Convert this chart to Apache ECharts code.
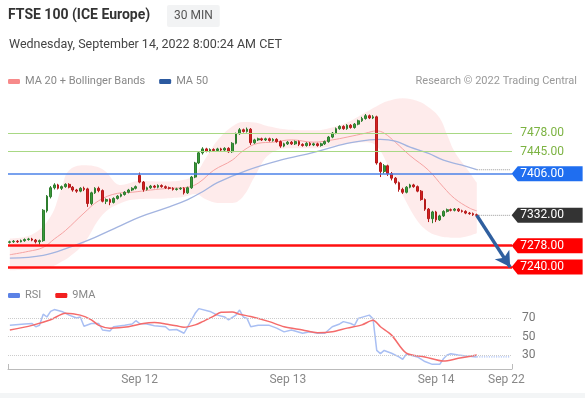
<!DOCTYPE html>
<html><head><meta charset="utf-8">
<script src="https://cdn.jsdelivr.net/npm/echarts@6/dist/echarts.min.js"></script>
<style>html,body{margin:0;padding:0;background:#fff;overflow:hidden}#c{width:585px;height:398px}#strip{position:absolute;left:0;top:393px;width:585px;height:5px;background:#f3f5f6}</style>
</head><body><div id="c"></div><div id="strip"></div>
<script>
// [open, close, low, high]
const candles = [
[7284,7285,7282,7287],[7285,7286,7283,7288],[7286,7285,7283,7288],[7285,7287,7284,7289],[7287,7289,7285,7291],
[7289,7290,7287,7292],[7290,7288,7286,7292],[7288,7285,7282,7290],[7285,7287,7280,7289],[7287,7341,7285,7343],
[7340,7366,7337,7368],[7365,7381,7362,7384],[7381,7386,7378,7389],[7386,7380,7378,7388],[7380,7383,7377,7385],
[7383,7387,7381,7389],[7387,7382,7380,7389],[7382,7377,7374,7384],[7377,7375,7372,7379],[7375,7380,7373,7382],
[7380,7378,7375,7383],[7379,7353,7347,7381],[7353,7372,7350,7374],[7372,7380,7370,7382],[7380,7376,7373,7383],
[7376,7357,7355,7378],[7357,7360,7352,7362],[7360,7355,7350,7362],[7355,7362,7353,7364],[7362,7366,7360,7368],
[7366,7369,7364,7371],[7369,7373,7367,7375],[7373,7377,7371,7379],[7377,7380,7375,7382],[7380,7383,7378,7385],
[7403,7391,7389,7408],[7391,7378,7374,7393],[7378,7381,7376,7383],[7381,7384,7379,7386],[7384,7382,7380,7386],
[7382,7385,7380,7387],[7385,7383,7381,7387],[7383,7381,7379,7385],[7381,7380,7378,7383],[7380,7378,7376,7382],
[7378,7379,7376,7381],[7379,7380,7377,7382],[7380,7372,7369,7382],[7372,7381,7370,7383],[7381,7400,7379,7402],
[7400,7425,7398,7427],[7425,7443,7423,7446],[7443,7450,7440,7453],[7450,7446,7444,7452],[7446,7449,7444,7451],
[7449,7447,7445,7451],[7447,7450,7445,7452],[7450,7448,7446,7452],[7448,7451,7446,7453],[7451,7445,7443,7453],
[7445,7460,7443,7462],[7460,7477,7458,7479],[7477,7484,7475,7487],[7484,7481,7479,7486],[7481,7485,7479,7488],
[7485,7461,7457,7487],[7461,7466,7459,7468],[7466,7468,7464,7470],[7468,7466,7464,7470],[7466,7468,7464,7470],
[7468,7465,7463,7470],[7465,7467,7463,7469],[7467,7463,7461,7469],[7463,7455,7452,7465],[7455,7459,7453,7461],
[7459,7462,7457,7464],[7462,7459,7457,7464],[7459,7463,7457,7465],[7463,7458,7455,7465],[7458,7456,7454,7460],
[7456,7460,7454,7462],[7460,7457,7455,7462],[7457,7459,7455,7461],[7459,7456,7454,7461],[7456,7459,7454,7461],
[7459,7463,7457,7465],[7463,7471,7461,7473],[7471,7478,7469,7480],[7478,7486,7476,7488],[7486,7490,7484,7492],
[7490,7486,7484,7492],[7486,7492,7484,7494],[7492,7488,7486,7494],[7488,7494,7486,7496],[7494,7500,7492,7502],
[7500,7504,7498,7507],[7504,7509,7502,7512],[7509,7505,7503,7511],[7505,7507,7503,7510],[7507,7425,7422,7509],
[7425,7410,7400,7427],[7410,7420,7406,7423],[7420,7406,7402,7422],[7406,7398,7394,7409],[7398,7390,7387,7400],
[7390,7378,7374,7392],[7378,7373,7370,7381],[7373,7382,7371,7384],[7382,7386,7380,7388],[7386,7383,7381,7388],
[7383,7375,7373,7385],[7375,7360,7358,7377],[7360,7343,7340,7362],[7343,7326,7320,7345],[7326,7338,7318,7340],
[7338,7324,7320,7340],[7324,7331,7322,7333],[7331,7339,7329,7341],[7339,7342,7337,7344],[7342,7341,7339,7344],
[7341,7343,7339,7345],[7343,7340,7338,7345],[7340,7339,7337,7342],[7339,7336,7334,7341],[7336,7335,7333,7338],
[7335,7333,7331,7337],[7333,7332,7330,7335]
];
const slotCount = 136;
const tickIdx = [35, 75, 115, 134];
const tickLabels = ['Sep 12', 'Sep 13', 'Sep 14', 'Sep 22'];

const ma20 = [[0,7262],[5,7268],[9,7275],[12,7290],[15,7305],[20,7336],[24,7358],[29,7371],[33,7373],[38,7377],[43,7380],[48,7382],[51,7390],[55,7412],[60,7430],[63,7447],[67,7460],[71,7462],[76,7466],[82,7462],[87,7466],[91,7471],[96,7478],[99,7482],[101,7478],[104,7462],[108,7438],[113,7412],[117,7382],[120,7362],[124,7345],[126,7340]];
const ma50 = [[0,7256],[9,7261],[16,7275],[23,7293],[29,7311],[35,7329],[43,7347],[48,7360],[52,7374],[56,7390],[64,7412],[73,7430],[82,7444],[91,7460],[97,7466],[100,7467],[104,7464],[108,7453],[113,7442],[117,7430],[122,7421],[126,7413]];
const bbIdx   = [0,6,11,14,16,20,25,30,35,42,47,50,53,56,60,63,66,70,76,82,88,92,96,99,102,106,110,113,116,118,120,123,126];
const bbUpper = [7291,7298,7330,7382,7412,7421,7414,7386,7393,7392,7395,7405,7435,7465,7490,7498,7497,7490,7484,7483,7490,7500,7515,7526,7535,7540,7535,7524,7505,7475,7445,7418,7390];
const bbLower = [7234,7236,7240,7250,7258,7282,7333,7354,7361,7362,7365,7370,7360,7354,7354,7366,7400,7440,7451,7451,7456,7460,7462,7455,7421,7368,7322,7303,7295,7293,7292,7294,7300];

const rsi = [[0,62],[4,63.5],[6,64],[7,60.5],[8,62],[9,74],[10,71],[11,77],[12,79],[14,77],[15,75],[16,73],[18,70],[19,71],[20,61],[22,64],[24,64],[25,57],[27,56],[28,60.5],[31,62],[33,63.5],[34,67],[35,64],[37,63.5],[39,61.5],[42,60.5],[43,57],[45,57.5],[47,53.5],[48,60.5],[50,75],[51,80],[54,77],[56,73],[58,71],[59,68],[61,73],[62,78.5],[63,71],[64,69.5],[65,60.5],[67,62],[70,62],[72,59],[74,55],[76,57],[79,53.5],[81,55],[83,53.5],[85,53.5],[87,60.5],[89,63.5],[90,66],[92,64],[93,62],[94,69.5],[97,73],[98,69],[99,35],[100,31.5],[101,35],[103,32],[105,28],[106,25.5],[107,31],[108,30],[110,28],[112,23],[114,20],[116,20],[117,26],[118,30],[119,31.5],[121,30],[123,29],[126,28]];
const rsi9ma = [[0,57],[6,62],[11,68],[15,75],[19,73],[22,68],[24,62],[27,59],[32,60.5],[36,64],[39,65],[42,63.5],[45,61.5],[47,60],[50,62.5],[52,66],[55,72],[57,76],[60,76.5],[62,74],[65,71.5],[70,66],[74,60.5],[79,57],[83,54],[87,55],[91,59],[95,62.5],[98,67.5],[100,60.5],[103,51.5],[107,32],[112,28],[117,23.5],[121,26.5],[126,30]];

const resistance = [7478, 7445];
const pivot = 7406;
const supports = [7278, 7240];
const rsiLevels = [70, 50, 30];

const categories = Array.from({length: slotCount}, (_, i) => 'c' + i);
const lastIdx = candles.length - 1;
const endIdx = slotCount - 1;
const lastClose = candles[lastIdx][1];
const lastMa50 = ma50[ma50.length - 1][1];
const lastRsi = rsi[rsi.length - 1][1];
const FONT = 'Roboto, Arial, sans-serif';

const tagPath = 'path://M0,6 L6,0 L70,0 L70,12 L6,12 Z';
function tag(v, bg, fg) {
  return {
    coord: [categories[endIdx], v], value: v.toFixed(2),
    symbol: bg ? tagPath : 'rect', symbolSize: [71, 15], symbolOffset: [37, 0], symbolKeepAspect: false,
    itemStyle: {color: bg || 'rgba(0,0,0,0)'},
    label: {show: true, position: 'inside', offset: [-5, 0], color: fg, fontSize: 12, fontFamily: FONT, formatter: v.toFixed(2)}
  };
}

const chart = echarts.init(document.getElementById('c'), null, {renderer: 'canvas'});
chart.setOption({
  animation: false,
  textStyle: {fontFamily: FONT},
  title: [
    {text: 'FTSE 100 (ICE Europe)', left: 8, top: 8, padding: 0, textStyle: {fontSize: 14, fontWeight: 'bold', color: '#333', fontFamily: FONT}},
    {text: '30 MIN', left: 167, top: 5, padding: [5, 7], backgroundColor: '#f2f3f4', borderRadius: 2, textStyle: {fontSize: 12, fontWeight: 'normal', color: '#555', fontFamily: FONT}},
    {text: 'Wednesday, September 14, 2022 8:00:24 AM CET', left: 9, top: 38, padding: 0, textStyle: {fontSize: 12.5, fontWeight: 'normal', color: '#444', fontFamily: FONT}},
    {text: 'Research \u00a9 2022 Trading Central', right: 8, top: 76, padding: 0, textStyle: {fontSize: 11, fontWeight: 'normal', color: '#999', fontFamily: FONT}}
  ],
  legend: [
    {left: 8, top: 76, padding: 0, icon: 'roundRect', itemWidth: 12, itemHeight: 5, itemGap: 14,
     textStyle: {color: '#888', fontSize: 11, fontFamily: FONT},
     data: [{name: 'MA 20 + Bollinger Bands', itemStyle: {color: '#f78a8a'}}, {name: 'MA 50', itemStyle: {color: '#2c5aa0'}}]},
    {left: 8, top: 290, padding: 0, icon: 'roundRect', itemWidth: 12, itemHeight: 5, itemGap: 14,
     textStyle: {color: '#888', fontSize: 11, fontFamily: FONT},
     data: [{name: 'RSI', itemStyle: {color: '#5b82e6'}}, {name: '9MA', itemStyle: {color: '#f22020'}}]}
  ],
  grid: [
    {left: 8, right: 73, top: 87, height: 197},
    {left: 8, right: 73, top: 304, height: 65}
  ],
  xAxis: [
    {type: 'category', gridIndex: 0, data: categories, boundaryGap: true, show: false},
    {type: 'category', gridIndex: 1, data: categories, boundaryGap: true,
     axisLine: {lineStyle: {color: '#bbb', width: 1}},
     axisTick: {show: true, inside: true, length: 5, lineStyle: {color: '#bbb'}, interval: (i) => i === 0},
     axisLabel: {interval: (i) => tickIdx.includes(i), formatter: (v, i) => tickLabels[tickIdx.indexOf(i)] || '',
                 color: '#888', fontSize: 12, margin: 5, fontFamily: FONT}}
  ],
  yAxis: [
    {type: 'value', gridIndex: 0, min: 7210, max: 7560, show: false},
    {type: 'value', gridIndex: 1, min: 15, max: 85, position: 'right',
     axisLine: {show: false}, axisTick: {show: false}, splitLine: {show: false},
     axisLabel: {customValues: rsiLevels, color: '#777', fontSize: 12, margin: 10, fontFamily: FONT}}
  ],
  series: [
    {type: 'line', name: 'bbLower', xAxisIndex: 0, yAxisIndex: 0, stack: 'bb', smooth: 0.4, symbol: 'none',
     lineStyle: {opacity: 0}, data: bbIdx.map((x, k) => [x, bbLower[k]]), z: 1, silent: true},
    {type: 'line', name: 'bbBand', xAxisIndex: 0, yAxisIndex: 0, stack: 'bb', smooth: 0.4, symbol: 'none',
     lineStyle: {opacity: 0}, areaStyle: {color: 'rgba(250,160,160,0.3)'},
     data: bbIdx.map((x, k) => [x, bbUpper[k] - bbLower[k]]), z: 1, silent: true},
    {type: 'line', name: 'MA 20 + Bollinger Bands', xAxisIndex: 0, yAxisIndex: 0, smooth: 0.4, symbol: 'none',
     color: '#f78a8a', lineStyle: {color: '#f5a3a3', width: 1}, data: ma20, z: 2},
    {type: 'line', name: 'MA 50', xAxisIndex: 0, yAxisIndex: 0, smooth: 0.4, symbol: 'none',
     color: '#2c5aa0', lineStyle: {color: '#a3b4e0', width: 1.3}, data: ma50, z: 2},
    {type: 'line', name: 'ext', xAxisIndex: 0, yAxisIndex: 0, symbol: 'none',
     lineStyle: {color: '#999', width: 1, type: 'dotted'}, data: [[lastIdx, lastMa50], [endIdx, lastMa50]], z: 2},
    {type: 'line', name: 'ext2', xAxisIndex: 0, yAxisIndex: 0, symbol: 'none',
     lineStyle: {color: '#999', width: 1, type: 'dotted'}, data: [[lastIdx, lastClose], [endIdx, lastClose]], z: 2,
     markLine: {silent: true, symbol: ['none', 'arrow'], symbolSize: [13, 15], label: {show: false},
       lineStyle: {color: '#2f5f9f', width: 3.5, type: 'solid'},
       data: [[{coord: [categories[lastIdx], lastClose]}, {coord: [categories[endIdx], supports[1]]}]]}},
    {type: 'line', name: 'resLines', xAxisIndex: 0, yAxisIndex: 0, symbol: 'none', data: [], z: 4,
     markLine: {silent: true, symbol: ['none', 'none'], label: {show: false},
       lineStyle: {color: '#a8d884', width: 1, type: 'solid', opacity: 1},
       data: resistance.map(v => ({yAxis: v}))}},
    {type: 'candlestick', name: 'FTSE', xAxisIndex: 0, yAxisIndex: 0, data: candles, barWidth: '62%', z: 3,
     itemStyle: {color: '#3a9a3a', color0: '#d42020', borderColor: '#2e7d2e', borderColor0: '#b51b1b', borderWidth: 1},
     markLine: {silent: true, symbol: ['none', 'none'], label: {show: false}, z: 4,
       data: [
         {yAxis: pivot, lineStyle: {color: '#4b82e8', width: 1.5, type: 'solid'}},
         {yAxis: supports[0], lineStyle: {color: '#ff1010', width: 2.6, type: 'solid'}},
         {yAxis: supports[1], lineStyle: {color: '#ff1010', width: 2.6, type: 'solid'}}
       ]},
     markPoint: {silent: true, z: 5,
       data: [tag(resistance[0], null, '#7cb342'), tag(resistance[1], null, '#7cb342'), tag(pivot, '#1f6ef0', '#fff'),
              tag(lastClose, '#333', '#fff'), tag(supports[0], '#ff0000', '#fff'), tag(supports[1], '#ff0000', '#fff')]}},
    {type: 'line', name: 'RSI', xAxisIndex: 1, yAxisIndex: 1, symbol: 'none', color: '#5b82e6',
     lineStyle: {color: '#a9bff3', width: 1.5}, data: rsi, z: 3,
     markLine: {silent: true, symbol: ['none', 'none'], label: {show: false},
       lineStyle: {color: '#ccc', width: 1, type: 'dotted'}, data: rsiLevels.map(v => ({yAxis: v}))}},
    {type: 'line', name: 'rsiExt', xAxisIndex: 1, yAxisIndex: 1, symbol: 'none',
     lineStyle: {color: '#a9bff3', width: 1.2, type: 'dotted'}, data: [[lastIdx, lastRsi], [endIdx, lastRsi]], z: 2},
    {type: 'line', name: '9MA', xAxisIndex: 1, yAxisIndex: 1, symbol: 'none', smooth: 0.3, color: '#f22020',
     lineStyle: {color: '#f46b6b', width: 1.5}, data: rsi9ma, z: 4}
  ]
});
</script></body></html>
